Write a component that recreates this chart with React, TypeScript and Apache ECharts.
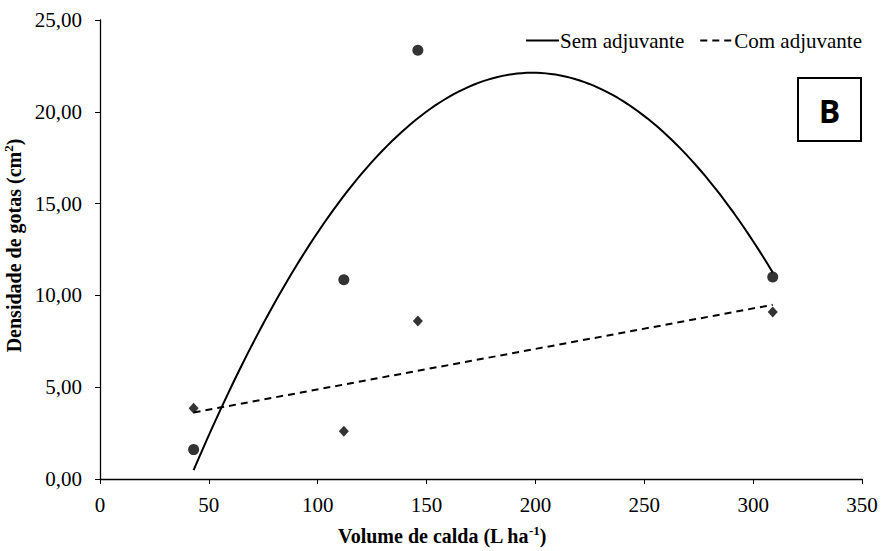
import React, { useEffect, useRef } from "react";
import * as echarts from "echarts";

// Application volume (L ha-1) of each treatment
const volumes = [43, 112, 146, 309];
// Droplet density (cm²) without adjuvant
const semAdjuvante = [1.6, 10.85, 23.35, 11.0];
// Droplet density (cm²) with adjuvant
const comAdjuvante = [3.85, 2.6, 8.6, 9.1];

const xTicks = [0, 50, 100, 150, 200, 250, 300, 350];
const yTicks = [0, 5, 10, 15, 20, 25];

// Least-squares polynomial fit (degree 1 or 2) of y on x
function polyFit(xs: number[], ys: number[], degree: number): number[] {
  const n = degree + 1;
  const A: number[][] = Array.from({ length: n }, () => new Array(n + 1).fill(0));
  for (let i = 0; i < xs.length; i++) {
    for (let r = 0; r < n; r++) {
      for (let c = 0; c < n; c++) A[r][c] += Math.pow(xs[i], r + c);
      A[r][n] += ys[i] * Math.pow(xs[i], r);
    }
  }
  for (let p = 0; p < n; p++) {
    let best = p;
    for (let r = p + 1; r < n; r++) if (Math.abs(A[r][p]) > Math.abs(A[best][p])) best = r;
    [A[p], A[best]] = [A[best], A[p]];
    for (let r = 0; r < n; r++) {
      if (r === p) continue;
      const f = A[r][p] / A[p][p];
      for (let c = p; c <= n; c++) A[r][c] -= f * A[p][c];
    }
  }
  return A.map((row, i) => row[n] / row[i]);
}

function trend(xs: number[], ys: number[], degree: number, steps: number) {
  const coef = polyFit(xs, ys, degree);
  const x0 = Math.min(...xs);
  const x1 = Math.max(...xs);
  const pts: number[][] = [];
  for (let i = 0; i <= steps; i++) {
    const x = x0 + ((x1 - x0) * i) / steps;
    const y = coef.reduce((s, c, k) => s + c * Math.pow(x, k), 0);
    pts.push([x, y]);
  }
  return pts;
}

const SERIF = "Liberation Serif";

export default function App() {
  const ref = useRef<HTMLDivElement>(null);

  useEffect(() => {
    if (!ref.current) return;
    const chart = echarts.init(ref.current, undefined, { renderer: "svg" });

    const axisText = { color: "#000", fontFamily: SERIF, fontSize: 21 };
    const titleRich = {
      b: { fontFamily: SERIF, fontSize: 20, fontWeight: "bold", color: "#000" },
      s: {
        fontFamily: SERIF,
        fontSize: 13,
        fontWeight: "bold",
        color: "#000",
        padding: [0, 0, 10, 0],
      },
    };

    chart.setOption({
      animation: false,
      backgroundColor: "#fff",
      textStyle: { fontFamily: SERIF },
      grid: {
        left: 100,
        right: 21,
        top: 20,
        bottom: 72,
        containLabel: false,
        outerBoundsMode: "none",
      },
      legend: {
        data: ["Sem adjuvante", "Com adjuvante"],
        right: 16,
        top: 25,
        itemWidth: 33,
        itemHeight: 14,
        itemGap: 15,
        itemStyle: { opacity: 0 },
        textStyle: { color: "#000", fontFamily: SERIF, fontSize: 21, padding: [0, 0, 0, -4] },
      },
      xAxis: {
        type: "value",
        min: xTicks[0],
        max: xTicks[xTicks.length - 1],
        interval: 50,
        name: "{b|Volume de calda (L ha}{s|-1}{b|)}",
        nameLocation: "middle",
        nameGap: 45,
        nameTextStyle: { rich: titleRich, padding: [0, 78, 0, 0] },
        axisLine: { show: true, lineStyle: { color: "#000", width: 1.3 } },
        axisTick: { show: true, inside: false, length: 5, lineStyle: { color: "#000" } },
        axisLabel: { ...axisText, margin: 15 },
        splitLine: { show: false },
      },
      yAxis: {
        type: "value",
        min: yTicks[0],
        max: yTicks[yTicks.length - 1],
        interval: 5,
        name: "{b|Densidade de gotas (cm}{s|2}{b|)}",
        nameLocation: "middle",
        nameGap: 70,
        nameTextStyle: { rich: titleRich, padding: [0, 0, 0, 8] },
        axisLine: { show: true, lineStyle: { color: "#000", width: 1.3 } },
        axisTick: { show: true, inside: false, length: 5, lineStyle: { color: "#000" } },
        axisLabel: {
          ...axisText,
          margin: 18,
          formatter: (v: number) => v.toFixed(2).replace(".", ","),
        },
        splitLine: { show: false },
      },
      series: [
        {
          name: "Sem adjuvante",
          type: "line",
          data: trend(volumes, semAdjuvante, 2, 120),
          symbol: "none",
          lineStyle: { color: "#000", width: 2, type: "solid" },
          itemStyle: { color: "#000" },
          z: 3,
        },
        {
          name: "Com adjuvante",
          type: "line",
          data: trend(volumes, comAdjuvante, 1, 1),
          symbol: "none",
          lineStyle: { color: "#000", width: 2, type: [7, 5] },
          itemStyle: { color: "#000" },
          z: 3,
        },
        {
          name: "Sem adjuvante pontos",
          type: "scatter",
          data: volumes.map((x, i) => [x, semAdjuvante[i]]),
          symbol: "circle",
          symbolSize: 11,
          itemStyle: { color: "#000" },
          z: 4,
        },
        {
          name: "Com adjuvante pontos",
          type: "scatter",
          data: volumes.map((x, i) => [x, comAdjuvante[i]]),
          symbol: "diamond",
          symbolSize: [10, 11],
          itemStyle: { color: "#000" },
          z: 4,
        },
      ],
      graphic: [
        {
          type: "group",
          right: 21,
          top: 77,
          children: [
            {
              type: "rect",
              shape: { x: 0, y: 0, width: 63, height: 63 },
              style: { fill: "#fff", stroke: "#000", lineWidth: 2 },
            },
            {
              type: "text",
              x: 31.5,
              y: 32,
              style: {
                text: "B",
                fill: "#000",
                font: "bold 32px 'Open Sans', 'DejaVu Sans', sans-serif",
                textAlign: "center",
                textVerticalAlign: "middle",
              },
            },
          ],
        },
      ],
    });

    return () => chart.dispose();
  }, []);

  return (
    <div
      ref={ref}
      style={{ position: "fixed", left: 0, top: 0, width: 883, height: 551 }}
    />
  );
}
